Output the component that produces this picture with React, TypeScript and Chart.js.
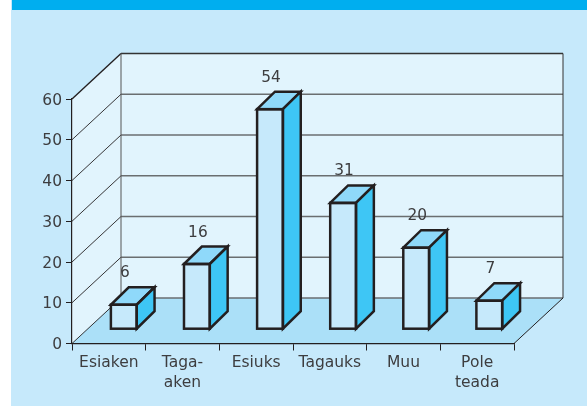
import React, { useEffect, useRef } from "react";
import { Chart, registerables } from "chart.js";

Chart.register(...registerables);

const categories: (string | string[])[] = ["Esiaken", ["Taga-", "aken"], "Esiuks", "Tagauks", "Muu", ["Pole", "teada"]];
const values = [6, 16, 54, 31, 20, 7];
const gridValues = [10, 20, 30, 40, 50, 60];

const WALL_DX = 49;
const WALL_DY = -45.5;
const BAR_PITCH_SCALE = 0.9923;
const BAR_SHIFT_X = 15.8;
const BAR_SHIFT_Y = -14.3;
const BAR_DX = 18;
const BAR_DY = -17.5;
const INK = "#231F20";
const TEXT = "#3D3D3F";
const FONT = "DejaVu Sans";

const scene = {
  id: "scene",
  beforeDraw(chart: any) {
    const { ctx, scales: { x, y } } = chart;
    const l = x.left, r = x.right, b = y.getPixelForValue(0), t = y.getPixelForValue(60);
    const poly = (pts: number[][], fill: string) => {
      ctx.beginPath();
      pts.forEach((p, i) => (i ? ctx.lineTo(p[0], p[1]) : ctx.moveTo(p[0], p[1])));
      ctx.closePath();
      ctx.fillStyle = fill;
      ctx.fill();
    };
    const line = (x1: number, y1: number, x2: number, y2: number, color: string, w: number) => {
      ctx.beginPath();
      ctx.moveTo(x1, y1);
      ctx.lineTo(x2, y2);
      ctx.strokeStyle = color;
      ctx.lineWidth = w;
      ctx.stroke();
    };
    ctx.save();
    poly([[l, b], [l + WALL_DX, b + WALL_DY], [l + WALL_DX, t + WALL_DY], [l, t]], "#E1F4FD");
    poly([[l + WALL_DX, b + WALL_DY], [r + WALL_DX, b + WALL_DY], [r + WALL_DX, t + WALL_DY], [l + WALL_DX, t + WALL_DY]], "#E1F4FD");
    poly([[l, b], [r, b], [r + WALL_DX, b + WALL_DY], [l + WALL_DX, b + WALL_DY]], "#ABE0F8");
    gridValues.forEach((v) => {
      const p = y.getPixelForValue(v);
      const top = v === 60;
      line(l, p, l + WALL_DX, p + WALL_DY, INK, top ? 1.4 : 0.9);
      line(l + WALL_DX, p + WALL_DY, r + WALL_DX, p + WALL_DY, top ? "#333" : "#6A6E70", top ? 1.3 : 1.4);
    });
    line(l + WALL_DX, b + WALL_DY, r + WALL_DX, b + WALL_DY, "#6A6E70", 1.4);
    line(l, b, l + WALL_DX, b + WALL_DY, INK, 0.9);
    line(r, b, r + WALL_DX, b + WALL_DY, INK, 1);
    line(l + WALL_DX, b + WALL_DY, l + WALL_DX, t + WALL_DY, "#555", 1);
    line(r + WALL_DX, b + WALL_DY, r + WALL_DX, t + WALL_DY, "#333", 1);
    ctx.restore();
  },
  beforeDatasetDraw(chart: any) {
    chart.ctx.save();
    chart.ctx.translate(BAR_SHIFT_X, BAR_SHIFT_Y);
    chart.ctx.scale(BAR_PITCH_SCALE, 1);
  },
  afterDatasetDraw(chart: any, args: any) {
    const { ctx } = chart;
    const meta = chart.getDatasetMeta(args.index);
    meta.data.forEach((bar: any, i: number) => {
      const { x, y, width, base } = bar.getProps(["x", "y", "width", "base"], true);
      const x0 = x - width / 2, x1 = x + width / 2;
      ctx.lineWidth = 2.5;
      ctx.lineJoin = "miter";
      ctx.strokeStyle = INK;
      ctx.beginPath();
      ctx.moveTo(x0, y);
      ctx.lineTo(x0 + BAR_DX, y + BAR_DY);
      ctx.lineTo(x1 + BAR_DX, y + BAR_DY);
      ctx.lineTo(x1, y);
      ctx.closePath();
      ctx.fillStyle = "#8FD9FA";
      ctx.fill();
      ctx.stroke();
      ctx.beginPath();
      ctx.moveTo(x1, y);
      ctx.lineTo(x1 + BAR_DX, y + BAR_DY);
      ctx.lineTo(x1 + BAR_DX, base + BAR_DY);
      ctx.lineTo(x1, base);
      ctx.closePath();
      ctx.fillStyle = "#3EC6F5";
      ctx.fill();
      ctx.stroke();
      ctx.strokeRect(x0, y, width, base - y);
      ctx.fillStyle = TEXT;
      ctx.font = `15.5px "${FONT}"`;
      ctx.textAlign = "center";
      ctx.textBaseline = "middle";
      ctx.fillText(String(values[i]), x + 1, y - 31.5);
    });
    ctx.restore();
  },
};

export default function App() {
  const ref = useRef<HTMLCanvasElement>(null);
  useEffect(() => {
    const chart = new Chart(ref.current!, {
      type: "bar",
      data: {
        labels: categories as any,
        datasets: [{ data: values, backgroundColor: "#C6E9FB", borderWidth: 0, barThickness: 26, clip: false } as any],
      },
      options: {
        animation: false,
        responsive: false,
        layout: { padding: { left: 0, right: 73, top: 99, bottom: 0 } },
        plugins: { legend: { display: false }, tooltip: { enabled: false } },
        scales: {
          x: {
            grid: { display: true, drawOnChartArea: false, drawTicks: true, tickLength: 7, color: INK, offset: true },
            border: { display: true, color: INK, width: 1.2 },
            ticks: { color: TEXT, font: { family: FONT, size: 15.5, lineHeight: 1.32 }, padding: 2, maxRotation: 0, autoSkip: false },
            afterFit: (s: any) => { s.height = 62.5; s.paddingLeft = 0; s.paddingRight = 0; },
          },
          y: {
            min: 0,
            max: 60,
            grid: { display: true, drawOnChartArea: false, drawTicks: true, tickLength: 6, color: INK },
            border: { display: true, color: INK, width: 1.2 },
            ticks: { stepSize: 10, color: TEXT, font: { family: FONT, size: 15.5 }, padding: 4, labelOffset: 1.5 },
            afterFit: (s: any) => { s.width = 72; s.paddingTop = 0; s.paddingBottom = 0; },
          },
        },
      },
      plugins: [scene],
    } as any);
    return () => chart.destroy();
  }, []);
  return (
    <div style={{ position: "absolute", left: 0, top: 0, width: 587, height: 406, background: "#fff", overflow: "hidden" }}>
      <div style={{ position: "absolute", left: 11, top: 0, right: 0, bottom: 0, background: "#C6E9FB" }} />
      <div style={{ position: "absolute", left: 12, top: 0, right: 0, height: 10, background: "#00AEEF" }} />
      <canvas ref={ref} width={587} height={406} style={{ position: "absolute", left: 0, top: 0, display: "block" }} />
    </div>
  );
}
